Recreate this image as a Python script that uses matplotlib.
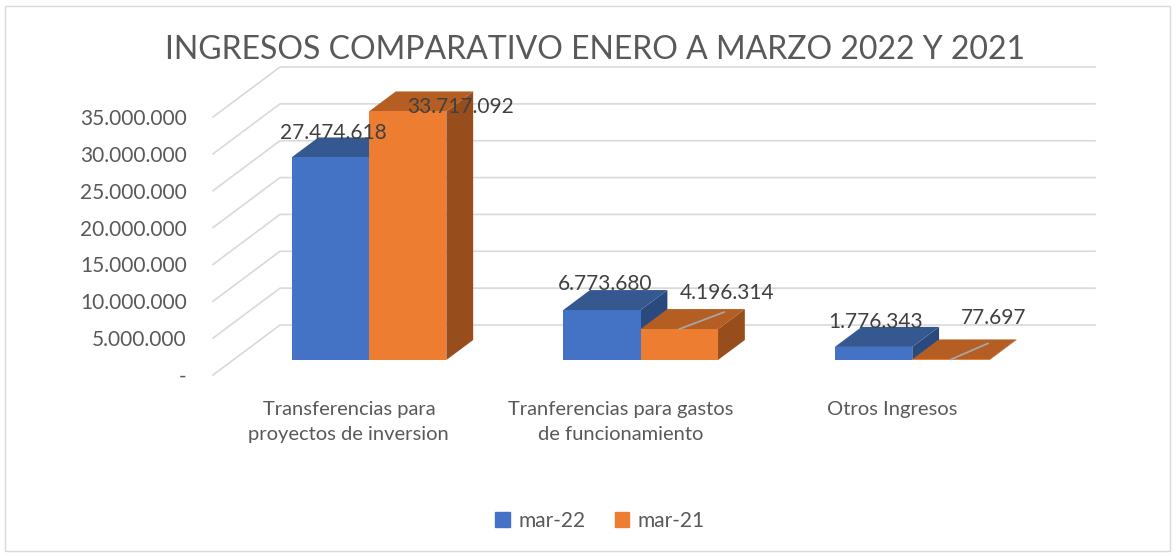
import matplotlib
matplotlib.use("Agg")
import matplotlib.pyplot as plt
from matplotlib.patches import Patch, Rectangle

plt.rcParams['font.family'] = ['Lato', 'DejaVu Sans']

categories = ['Transferencias para\nproyectos de inversion',
              'Tranferencias para gastos\nde funcionamiento',
              'Otros Ingresos']
series = ['mar-22', 'mar-21']
mar22 = [27474618, 6773680, 1776343]
mar21 = [33717092, 4196314, 77697]
yticks = [0, 5000000, 10000000, 15000000, 20000000, 25000000, 30000000, 35000000]
title = 'INGRESOS COMPARATIVO ENERO A MARZO 2022 Y 2021'

# label placement (pixels from the top-front-centre of each bar)
lab_off = [[(3, 24), (3, 26), (2, 25)], [(53, 4), (48, 36), (43, 41)]]
leader = [[None, None, None], [None, (45, 17), (37, 16)]]

front = ['#4472C4', '#ED7D31']
top = ['#34588F', '#B45E23']
side = ['#2A4A7E', '#974E1C']
txt = '#595959'

W, H = 1176, 556
fig = plt.figure(figsize=(W / 100, H / 100), dpi=100)
# front plane of the plot box in pixels
L, R, B, T = 213, 1028, 375, 117
ax = fig.add_axes([L / W, 1 - B / H, (R - L) / W, (B - T) / H])
ax.set_xlim(-0.5, 2.5)
ax.set_ylim(0, 35000000)
for s in ax.spines.values():
    s.set_visible(False)

# oblique depth: full depth = 67 px right, 50 px up
DX = 67 / (R - L) * 3
DY = 50 / (B - T) * 35000000
bw = 0.285
d0, d1 = 0.3, 0.7

# walls / gridlines
for v in yticks:
    ax.plot([-0.5, -0.5 + DX, 2.5 + DX], [v, v + DY, v + DY], color='#D9D9D9',
            lw=1.2, clip_on=False, zorder=1)

for i in range(len(categories)):
    for k, vals in enumerate([mar22, mar21]):
        v = vals[i]
        x0 = i - bw + k * bw
        x1 = x0 + bw
        ax.fill([x1 + d0 * DX, x1 + d1 * DX, x1 + d1 * DX, x1 + d0 * DX],
                [d0 * DY, d1 * DY, v + d1 * DY, v + d0 * DY],
                color=side[k], lw=0, clip_on=False, zorder=2)
        ax.fill([x0 + d0 * DX, x1 + d0 * DX, x1 + d1 * DX, x0 + d1 * DX],
                [v + d0 * DY, v + d0 * DY, v + d1 * DY, v + d1 * DY],
                color=top[k], lw=0, clip_on=False, zorder=2)
        ax.fill([x0 + d0 * DX, x1 + d0 * DX, x1 + d0 * DX, x0 + d0 * DX],
                [d0 * DY, d0 * DY, v + d0 * DY, v + d0 * DY],
                color=front[k], lw=0, clip_on=False, zorder=2)
        xc = (x0 + x1) / 2 + d0 * DX
        yc = v + d0 * DY
        ax.annotate(f'{v:,}'.replace(',', '.'), (xc, yc), xytext=lab_off[k][i],
                    textcoords='offset pixels', ha='center', va='center',
                    fontsize=15, color='#404040', zorder=5, annotation_clip=False)
        if leader[k][i]:
            ax.annotate('', (xc, yc), xytext=leader[k][i], textcoords='offset pixels',
                        arrowprops=dict(arrowstyle='-', color='#A6A6A6', lw=1.3,
                                        shrinkA=0, shrinkB=0),
                        zorder=4, annotation_clip=False)

ax.set_yticks(yticks)
ax.set_yticklabels(['-' if t == 0 else f'{t:,}'.replace(',', '.') for t in yticks],
                   fontsize=15, color=txt)
ax.set_xticks(range(len(categories)))
ax.set_xticklabels(categories, fontsize=14.5, color=txt, linespacing=1.55)
ax.tick_params(axis='y', length=0, pad=19)
ax.tick_params(axis='x', length=0, pad=19)

fig.text(595 / W, 1 - 50 / H, title, ha='center', va='center', fontsize=23, color=txt)

handles = [Patch(color=front[k], label=series[k]) for k in range(2)]
fig.legend(handles=handles, loc='center', bbox_to_anchor=(600 / W, 1 - 521 / H), ncol=2,
           frameon=False, fontsize=15, handlelength=0.7, handleheight=0.7,
           handletextpad=0.4, columnspacing=1.4, labelcolor=txt)

fig.patches.append(Rectangle((5 / W, 5 / H), 1165 / W, 545 / H, transform=fig.transFigure,
                             fill=False, edgecolor='#D9D9D9', lw=1))

fig.savefig('out.png', dpi=100, facecolor='white')
